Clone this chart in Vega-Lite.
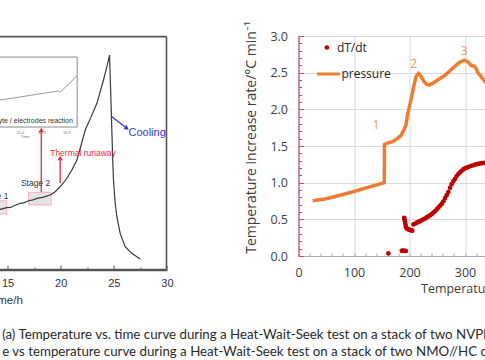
{
  "$schema": "https://vega.github.io/schema/vega-lite/v6.json",
  "background": "white",
  "padding": {"left": -47.5, "top": 20, "right": -146, "bottom": 0},
  "bounds": "flush",
  "spacing": 131,
  "config": {"view": {"stroke": null}},
  "title": {
    "text": ["(a) Temperature vs. time curve during a Heat-Wait-Seek test on a stack of two NVPF//HC cells;", "e vs temperature curve during a Heat-Wait-Seek test on a stack of two NMO//HC cells."],
    "orient": "bottom", "anchor": "start", "frame": "bounds", "baseline": "top",
    "offset": 22, "dx": 49.5, "font": "Lato", "fontSize": 13.3, "fontWeight": "normal",
    "color": "#2a2a2a", "lineHeight": 17
  },
  "datasets": {
    "frameEdges": [
      {"t": 10, "v": 299.2, "t1": 29.96, "v1": 299.2},
      {"t": 29.96, "v": 0.6, "t1": 29.96, "v1": 299.2},
      {"t": 10, "v": 0.6, "t1": 29.96, "v1": 0.6}
    ],
    "tempCurve": [
      {"t": 14.0, "v": 75.5}, {"t": 14.3, "v": 77.8}, {"t": 14.93, "v": 79.9}, {"t": 15.3, "v": 80.2},
      {"t": 15.56, "v": 82.1}, {"t": 16.19, "v": 85.5}, {"t": 16.5, "v": 86.0}, {"t": 16.97, "v": 88.8},
      {"t": 17.4, "v": 90.0}, {"t": 17.76, "v": 91.9}, {"t": 18.4, "v": 93.5}, {"t": 19.01, "v": 96.2},
      {"t": 19.48, "v": 100.4}, {"t": 20.11, "v": 109.0}, {"t": 20.58, "v": 117.6}, {"t": 21.05, "v": 128.2},
      {"t": 21.53, "v": 141.0}, {"t": 21.9, "v": 159}, {"t": 22.31, "v": 179.5}, {"t": 22.85, "v": 196},
      {"t": 23.41, "v": 213.7}, {"t": 24.03, "v": 243.6}, {"t": 24.35, "v": 260.6}, {"t": 24.6, "v": 275.6},
      {"t": 24.9, "v": 141.0}, {"t": 24.97, "v": 115.4}, {"t": 25.13, "v": 85.9}, {"t": 25.29, "v": 68.3},
      {"t": 25.6, "v": 47.0}, {"t": 26.07, "v": 29.9}, {"t": 26.7, "v": 21.4}, {"t": 27.48, "v": 14.1}
    ],
    "insetFrame": [{"t": 10, "v": 183.3, "t1": 21.55, "v1": 273}],
    "insetCurve": [
      {"t": 10, "v": 205}, {"t": 14.3, "v": 217.9}, {"t": 19.79, "v": 229.5}, {"t": 19.95, "v": 227.8}, {"t": 21.55, "v": 249.1}
    ],
    "insetTicks": [
      {"t": 16.19, "v": 176, "label": "15.0"}, {"t": 18.23, "v": 176, "label": "15.5"},
      {"t": 20.58, "v": 176, "label": "16.0"}, {"t": 16.66, "v": 170, "label": "Time"}
    ],
    "stages": [
      {"t": 16.97, "v": 83.3, "t1": 19.1, "v1": 99.6},
      {"t": 12.8, "v": 71.8, "t1": 14.93, "v1": 88.8}
    ],
    "redArrows": [
      {"t": 18.17, "v": 179.5, "v0": 100},
      {"t": 19.95, "v": 143.6, "v0": 111.5}
    ],
    "blueArrow": [{"t": 26.23, "v": 181.7, "t0": 24.82, "v0": 196.5}],
    "leftLabels": [
      {"t": 21.15, "v": 191.4, "label": "Electrolyte / electrodes reaction", "kind": "inset"},
      {"t": 16.25, "v": 111.2, "label": "Stage 2", "kind": "stage"},
      {"t": 15.08, "v": 94.9, "label": "Stage 1", "kind": "stage1"},
      {"t": 19.01, "v": 150.4, "label": "Thermal runaway", "kind": "red"},
      {"t": 26.38, "v": 176, "label": "Cooling", "kind": "blue"}
    ],
    "pressure": [
      {"T": 25.5, "r": 0.754}, {"T": 50, "r": 0.78}, {"T": 76.6, "r": 0.832}, {"T": 100, "r": 0.88},
      {"T": 125, "r": 0.935}, {"T": 154.6, "r": 1.0}, {"T": 154.8, "r": 1.52}, {"T": 160, "r": 1.54},
      {"T": 169.7, "r": 1.56}, {"T": 178, "r": 1.6}, {"T": 184.7, "r": 1.645}, {"T": 190, "r": 1.72},
      {"T": 193.7, "r": 1.79}, {"T": 197, "r": 1.95}, {"T": 202.7, "r": 2.13}, {"T": 207.6, "r": 2.31},
      {"T": 211.7, "r": 2.445}, {"T": 216, "r": 2.49}, {"T": 220, "r": 2.46}, {"T": 226, "r": 2.38},
      {"T": 231, "r": 2.34}, {"T": 235.7, "r": 2.33}, {"T": 245, "r": 2.37}, {"T": 256.8, "r": 2.43},
      {"T": 265, "r": 2.47}, {"T": 272, "r": 2.52}, {"T": 280.7, "r": 2.58}, {"T": 290, "r": 2.64},
      {"T": 298.7, "r": 2.67}, {"T": 305, "r": 2.65}, {"T": 311, "r": 2.6}, {"T": 316, "r": 2.59},
      {"T": 320, "r": 2.56}, {"T": 323, "r": 2.5}, {"T": 329, "r": 2.445}, {"T": 338, "r": 2.36}, {"T": 346, "r": 2.28}
    ],
    "dtdt": [
      {"T": 161.9, "r": 0.037},
      {"T": 186, "r": 0.07}, {"T": 188, "r": 0.075}, {"T": 190, "r": 0.072}, {"T": 192, "r": 0.07}, {"T": 193.5, "r": 0.068},
      {"T": 190.5, "r": 0.52}, {"T": 191, "r": 0.5}, {"T": 191.8, "r": 0.47}, {"T": 192.5, "r": 0.44},
      {"T": 193.2, "r": 0.41}, {"T": 194, "r": 0.39}, {"T": 195.5, "r": 0.375}, {"T": 197, "r": 0.365},
      {"T": 199, "r": 0.36}, {"T": 201, "r": 0.355}, {"T": 203, "r": 0.35}, {"T": 205, "r": 0.345},
      {"T": 207, "r": 0.43}, {"T": 210, "r": 0.44}, {"T": 213, "r": 0.455}, {"T": 216, "r": 0.465},
      {"T": 219, "r": 0.475}, {"T": 222, "r": 0.487}, {"T": 225, "r": 0.5}, {"T": 228, "r": 0.51},
      {"T": 231, "r": 0.526}, {"T": 234, "r": 0.54}, {"T": 237, "r": 0.556}, {"T": 240, "r": 0.57},
      {"T": 243, "r": 0.592}, {"T": 246, "r": 0.61}, {"T": 249, "r": 0.636}, {"T": 252, "r": 0.66},
      {"T": 255, "r": 0.684}, {"T": 258, "r": 0.71}, {"T": 261, "r": 0.746}, {"T": 264, "r": 0.79},
      {"T": 267, "r": 0.83}, {"T": 270, "r": 0.872}, {"T": 273, "r": 0.93}, {"T": 276, "r": 0.98},
      {"T": 279, "r": 1.02}, {"T": 282, "r": 1.052}, {"T": 285, "r": 1.09}, {"T": 288, "r": 1.118},
      {"T": 291, "r": 1.14}, {"T": 294, "r": 1.162}, {"T": 297, "r": 1.18}, {"T": 300, "r": 1.196},
      {"T": 303, "r": 1.205}, {"T": 306, "r": 1.214}, {"T": 310, "r": 1.226}, {"T": 314, "r": 1.234},
      {"T": 318, "r": 1.246}, {"T": 322, "r": 1.254}, {"T": 326, "r": 1.26}, {"T": 330, "r": 1.266},
      {"T": 334, "r": 1.27}, {"T": 338, "r": 1.27}, {"T": 342, "r": 1.276}
    ],
    "peaks": [
      {"T": 139.6, "r": 1.786, "label": "1"},
      {"T": 207.6, "r": 2.62, "label": "2"},
      {"T": 298.7, "r": 2.8, "label": "3"}
    ]
  },
  "hconcat": [
    {
      "width": 212.4,
      "height": 234,
      "encoding": {
        "x": {
          "field": "t", "type": "quantitative",
          "scale": {"domain": [10, 30], "nice": false},
          "axis": {
            "values": [15, 17.5, 20, 22.5, 25, 27.5, 30],
            "labelExpr": "datum.value % 5 === 0 ? datum.label : ''",
            "labelOverlap": false, "labelFlush": false, "domain": true, "domainColor": "#555555", "domainWidth": 1.6, "grid": false,
            "tickColor": "#555555",
            "tickSize": {"condition": {"test": "datum.value % 5 === 0", "value": -5}, "value": -3},
            "labelFont": "Liberation Sans", "labelFontSize": 11, "labelColor": "#333333", "labelPadding": 12,
            "title": "Time/h", "titleFont": "Liberation Sans", "titleFontSize": 11.5, "titleFontWeight": "normal",
            "titleColor": "#333333", "titleX": 50.5, "titleY": 30, "titleAlign": "center", "titleBaseline": "middle"
          }
        },
        "y": {"field": "v", "type": "quantitative", "scale": {"domain": [0, 300], "nice": false}, "axis": null}
      },
      "layer": [
        {"data": {"name": "insetFrame"}, "mark": {"type": "rect", "fill": "white", "stroke": "#8a8a8a", "strokeWidth": 1}, "encoding": {"x2": {"field": "t1"}, "y2": {"field": "v1"}}},
        {"data": {"name": "insetCurve"}, "mark": {"type": "line", "color": "#8c8c8c", "strokeWidth": 0.9}},
        {"data": {"name": "insetTicks"}, "mark": {"type": "text", "fontSize": 4, "color": "#777777", "font": "Liberation Sans"}, "encoding": {"text": {"field": "label"}}},
        {"data": {"name": "stages"}, "mark": {"type": "rect", "fill": "#e4e4e4", "stroke": "#f2a0a8", "strokeWidth": 0.8}, "encoding": {"x2": {"field": "t1"}, "y2": {"field": "v1"}}},
        {"data": {"name": "tempCurve"}, "mark": {"type": "line", "color": "#3a3a3a", "strokeWidth": 1.2}},
        {"data": {"name": "redArrows"}, "mark": {"type": "rule", "color": "#e0303c", "strokeWidth": 1.3}, "encoding": {"y2": {"field": "v0"}}},
        {"data": {"name": "redArrows"}, "mark": {"type": "point", "shape": "triangle-up", "filled": true, "color": "#e0303c", "size": 28, "opacity": 1}},
        {"data": {"name": "blueArrow"}, "mark": {"type": "rule", "color": "#3a3acc", "strokeWidth": 1.3}, "encoding": {"x2": {"field": "t0"}, "y2": {"field": "v0"}}},
        {"data": {"name": "blueArrow"}, "mark": {"type": "point", "shape": "triangle-right", "angle": 38, "filled": true, "color": "#3a3acc", "size": 28, "opacity": 1}},
        {"data": {"name": "leftLabels"}, "transform": [{"filter": "datum.kind === 'inset'"}], "mark": {"type": "text", "align": "right", "baseline": "middle", "fontSize": 7, "color": "#333333", "font": "Liberation Sans"}, "encoding": {"text": {"field": "label"}}},
        {"data": {"name": "leftLabels"}, "transform": [{"filter": "datum.kind === 'stage'"}], "mark": {"type": "text", "align": "left", "baseline": "middle", "fontSize": 8.5, "color": "#333333", "font": "Liberation Sans"}, "encoding": {"text": {"field": "label"}}},
        {"data": {"name": "leftLabels"}, "transform": [{"filter": "datum.kind === 'stage1'"}], "mark": {"type": "text", "align": "right", "baseline": "middle", "fontSize": 8.5, "color": "#333333", "font": "Liberation Sans"}, "encoding": {"text": {"field": "label"}}},
        {"data": {"name": "leftLabels"}, "transform": [{"filter": "datum.kind === 'red'"}], "mark": {"type": "text", "align": "left", "baseline": "middle", "fontSize": 8.5, "color": "#e0303c", "font": "Liberation Sans"}, "encoding": {"text": {"field": "label"}}},
        {"data": {"name": "leftLabels"}, "transform": [{"filter": "datum.kind === 'blue'"}], "mark": {"type": "text", "align": "left", "baseline": "middle", "fontSize": 11, "color": "#3a3acc", "font": "Liberation Sans"}, "encoding": {"text": {"field": "label"}}},
        {"data": {"name": "frameEdges"}, "mark": {"type": "rule", "color": "#555555", "strokeWidth": 1.6, "clip": false}, "encoding": {"x2": {"field": "t1"}, "y2": {"field": "v1"}}}
      ]
    },
    {
      "width": 333,
      "height": 220,
      "encoding": {
        "x": {
          "field": "T", "type": "quantitative",
          "scale": {"domain": [0, 600], "nice": false},
          "axis": {
            "values": [0, 20, 40, 60, 80, 100, 120, 140, 160, 180, 200, 220, 240, 260, 280, 300, 320, 340, 360, 380, 400, 420, 440, 460, 480, 500, 520, 540, 560, 580, 600],
            "labelExpr": "datum.value % 100 === 0 ? datum.label : ''",
            "labelOverlap": false, "labelFlush": false, "domainColor": "#a6a6a6", "tickColor": "#a6a6a6", "tickSize": -3,
            "grid": true, "gridColor": "#d9d9d9",
            "gridOpacity": {"condition": {"test": "datum.value % 100 === 0", "value": 1}, "value": 0},
            "labelFont": "Open Sans", "labelFontSize": 12.5, "labelColor": "#404040", "labelPadding": 13,
            "title": "Temperature/°C", "titleFont": "Open Sans", "titleFontSize": 12.5, "titleFontWeight": "normal",
            "titleColor": "#404040", "titleX": 122, "titleY": 32, "titleAlign": "left", "titleBaseline": "middle"
          }
        },
        "y": {
          "field": "r", "type": "quantitative",
          "scale": {"domain": [0, 3], "nice": false},
          "axis": {
            "values": [0, 0.1, 0.2, 0.3, 0.4, 0.5, 0.6, 0.7, 0.8, 0.9, 1, 1.1, 1.2, 1.3, 1.4, 1.5, 1.6, 1.7, 1.8, 1.9, 2, 2.1, 2.2, 2.3, 2.4, 2.5, 2.6, 2.7, 2.8, 2.9, 3],
            "labelExpr": "round(datum.value * 10) % 5 === 0 ? format(datum.value, '.1f') : ''",
            "labelOverlap": false, "labelFlush": false, "domainColor": "#c24a6a", "domainWidth": 1.2, "tickColor": "#c24a6a",
            "tickSize": {"condition": {"test": "round(datum.value * 10) % 5 === 0", "value": -5}, "value": -3},
            "grid": true, "gridColor": "#d9d9d9",
            "gridOpacity": {"condition": {"test": "round(datum.value * 10) % 5 === 0", "value": 1}, "value": 0},
            "labelFont": "Open Sans", "labelFontSize": 12.5, "labelColor": "#404040", "labelPadding": 16,
            "title": "Temperature increase rate/°C min⁻¹", "titleFont": "Open Sans", "titleFontSize": 14, "titleFontWeight": "normal",
            "titleColor": "#404040", "titleX": -47.5, "titleY": 101, "titleAlign": "center", "titleBaseline": "middle", "titleAngle": 270
          }
        }
      },
      "layer": [
        {
          "data": {"name": "dtdt"},
          "mark": {"type": "circle", "size": 22, "opacity": 1},
          "encoding": {
            "fill": {
              "datum": "dT/dt", "type": "nominal",
              "scale": {"domain": ["dT/dt"], "range": ["#c00000"]},
              "legend": {
                "title": null, "orient": "none", "legendX": 366.4, "legendY": 5.5, "padding": 0,
                "labelFont": "Open Sans", "labelFontSize": 12, "labelColor": "#262626",
                "symbolType": "circle", "symbolSize": 22, "symbolOpacity": 1, "labelOffset": 4
              }
            }
          }
        },
        {
          "data": {"name": "pressure"},
          "mark": {"type": "line", "strokeWidth": 3.5},
          "encoding": {
            "stroke": {
              "datum": "pressure", "type": "nominal",
              "scale": {"domain": ["pressure"], "range": ["#ed7d31"]},
              "legend": {
                "title": null, "orient": "none", "legendX": 360.9, "legendY": 25, "padding": 0,
                "labelFont": "Open Sans", "labelFontSize": 12, "labelColor": "#262626",
                "symbolType": "stroke", "symbolSize": 529, "symbolStrokeWidth": 3, "labelOffset": 0
              }
            }
          }
        },
        {
          "data": {"name": "peaks"},
          "mark": {"type": "text", "fontSize": 12, "color": "#e89858", "font": "Open Sans", "align": "center", "baseline": "middle"},
          "encoding": {"text": {"field": "label"}}
        }
      ]
    }
  ]
}
